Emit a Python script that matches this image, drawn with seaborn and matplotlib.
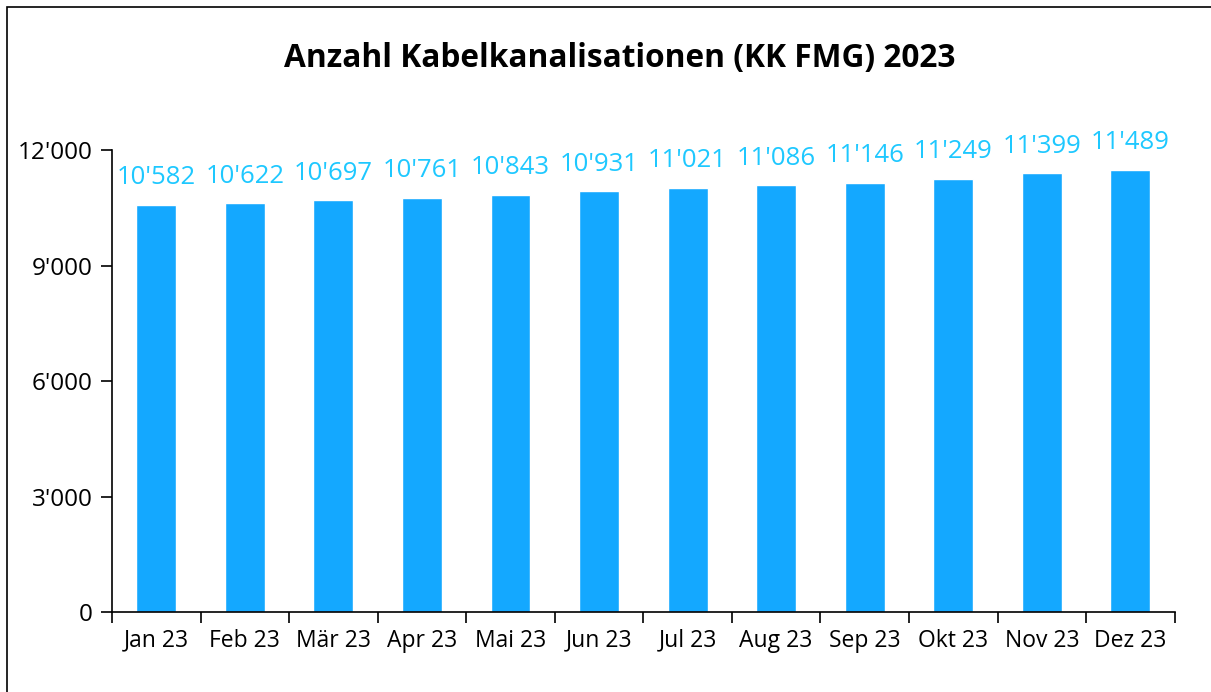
""" Bar chart: Anzahl Kabelkanalisationen (KK FMG) 2023 """

import matplotlib
matplotlib.use('Agg')
import matplotlib.pyplot as plt
import matplotlib.ticker as mticker
import numpy as np
import pandas as pd
import seaborn as sns

MONTHS = ['Jan 23', 'Feb 23', 'Mär 23', 'Apr 23', 'Mai 23', 'Jun 23',
          'Jul 23', 'Aug 23', 'Sep 23', 'Okt 23', 'Nov 23', 'Dez 23']
COUNTS = [10582, 10622, 10697, 10761, 10843, 10931,
          11021, 11086, 11146, 11249, 11399, 11489]
Y_TICKS = [0, 3000, 6000, 9000, 12000]

BAR_COLOUR = '#14A8FF'
LABEL_COLOUR = '#1EC8FF'


def swiss(value):
    return f'{int(value):,}'.replace(',', "'")


def draw():
    sns.set_style('white')
    plt.rcParams['font.family'] = ['Open Sans', 'DejaVu Sans']
    plt.rcParams['text.color'] = 'black'
    plt.rcParams['xtick.color'] = 'black'
    plt.rcParams['ytick.color'] = 'black'

    df = pd.DataFrame({'month': MONTHS, 'count': COUNTS})

    fig = plt.figure(figsize=(12.11, 6.92), dpi=100)
    ax = fig.add_axes([0.0925, 0.1156, 0.8775, 0.6674])
    sns.barplot(data=df, x='month', y='count', color=BAR_COLOUR,
                width=0.45, saturation=1, ax=ax)

    for i, v in enumerate(COUNTS):
        ax.text(i, v + 380, swiss(v), ha='center', va='bottom',
                color=LABEL_COLOUR, fontsize=18.5)

    ax.set_ylim(0, 12000)
    ax.set_xlim(-0.5, len(MONTHS) - 0.5)
    ax.set_yticks(Y_TICKS)
    ax.yaxis.set_major_formatter(mticker.FuncFormatter(lambda v, _: swiss(v)))
    ax.set_xticks(np.arange(-0.5, len(MONTHS)), minor=True)
    ax.tick_params(bottom=True, left=True, which='both')
    ax.tick_params(axis='x', which='major', length=0, pad=12, labelsize=16.5)
    ax.tick_params(axis='x', which='minor', length=8, width=1.2,
                   direction='out', color='black')
    ax.tick_params(axis='y', length=8, width=1.2, direction='out',
                   color='black', labelsize=17.5, pad=6)
    ax.set_xlabel('')
    ax.set_ylabel('')
    for side in ['top', 'right']:
        ax.spines[side].set_visible(False)
    for side in ['left', 'bottom']:
        ax.spines[side].set_color('black')
        ax.spines[side].set_linewidth(1.2)

    fig.text(0.512, 0.915, 'Anzahl Kabelkanalisationen (KK FMG) 2023',
             ha='center', va='center', fontsize=22.8, fontweight='bold',
             color='black')

    fig.patches.append(plt.Rectangle((0.006, -0.01), 1.1, 1.0, fill=False,
                                     edgecolor='black', linewidth=1.2,
                                     transform=fig.transFigure, figure=fig))
    fig.savefig('out.png', dpi=100)


if __name__ == '__main__':
    draw()
